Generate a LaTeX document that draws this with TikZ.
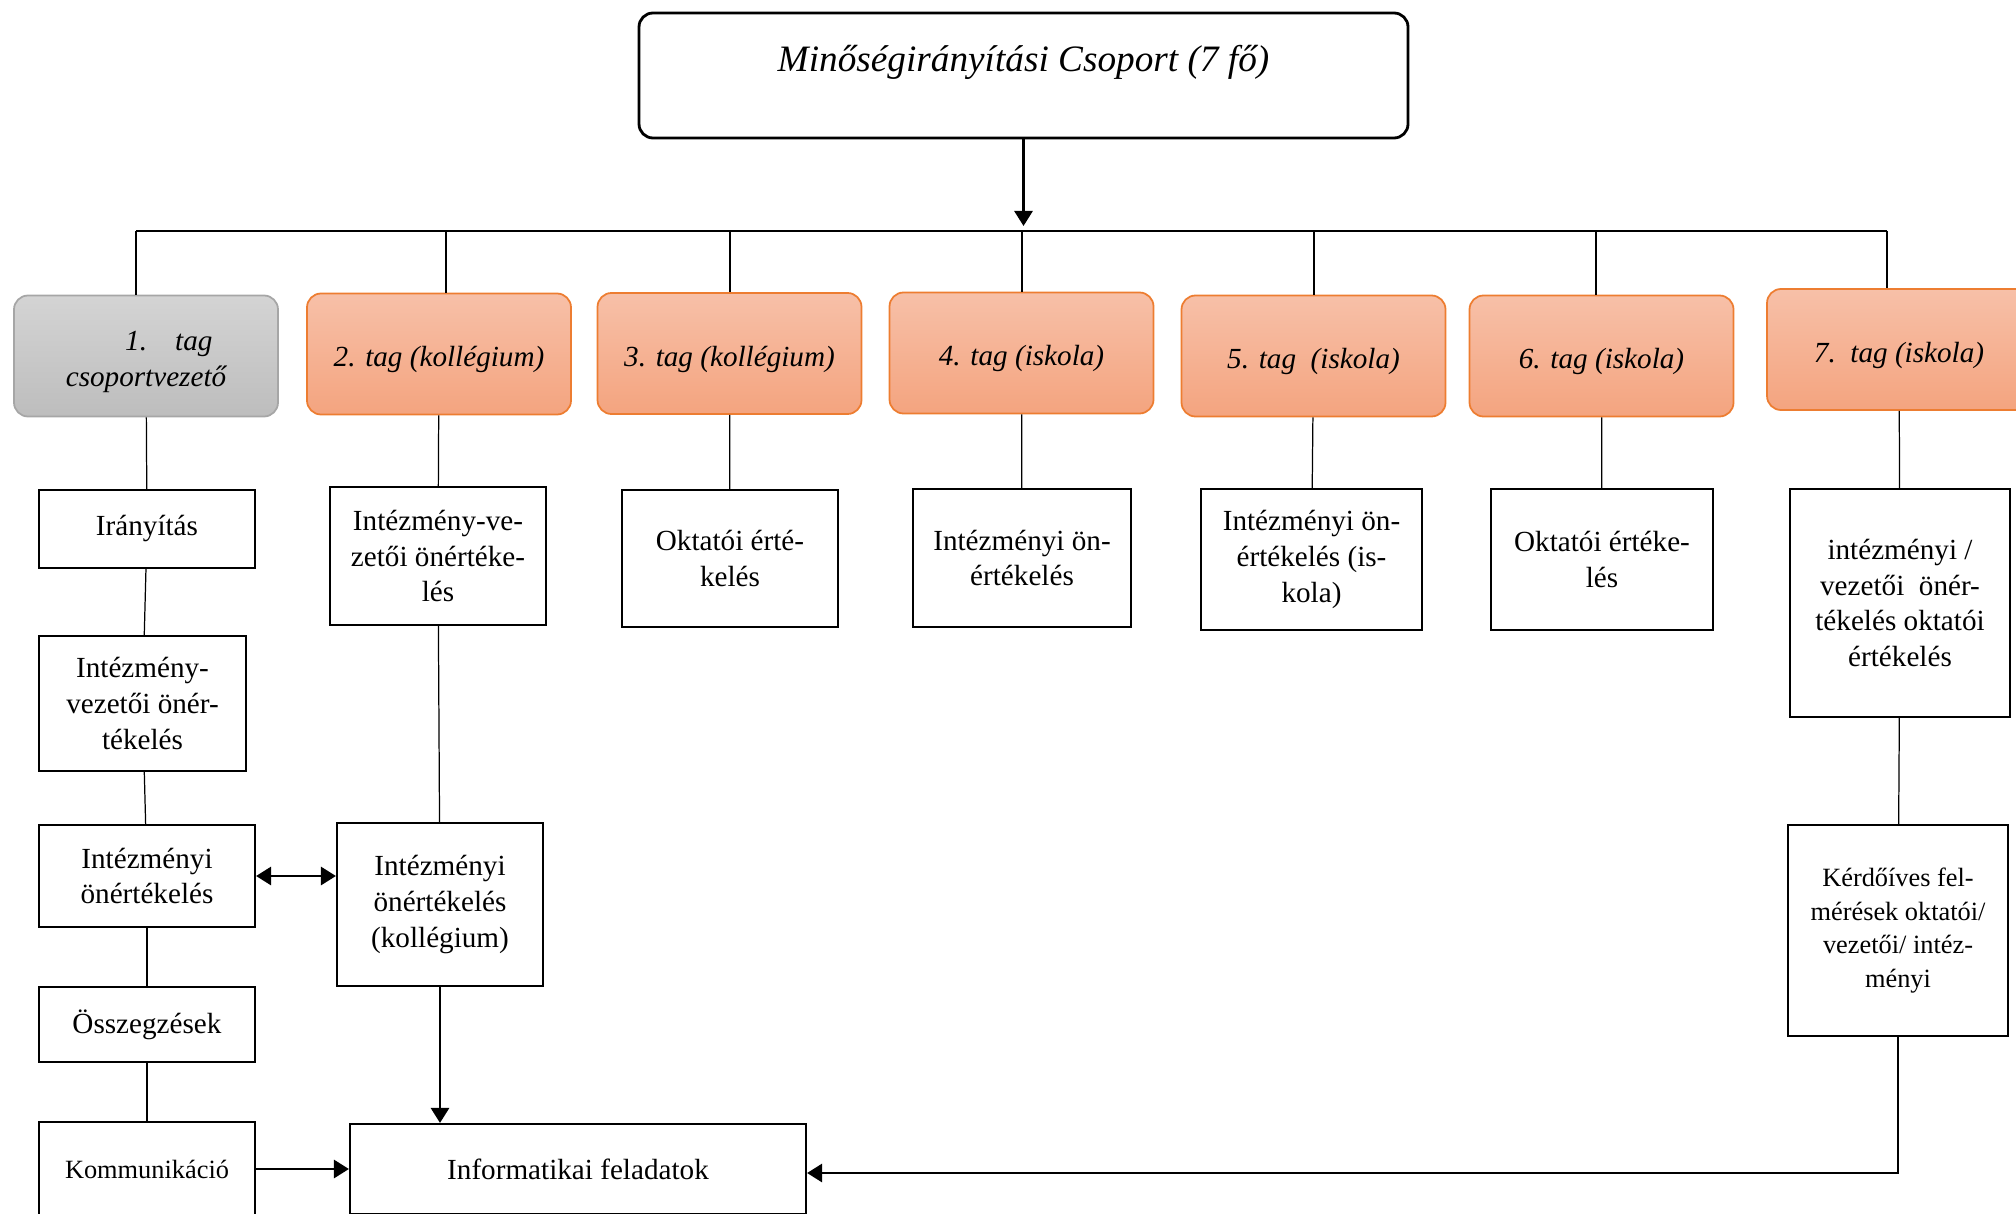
\documentclass[tikz,border=0pt]{standalone}
\usepackage{fontspec}
\setmainfont{Liberation Serif}
\usetikzlibrary{arrows.meta}

\definecolor{tagtop}{HTML}{F7C0A8}
\definecolor{tagbot}{HTML}{F4A47F}
\definecolor{tagline}{HTML}{ED7D31}
\definecolor{leadtop}{HTML}{D4D4D4}
\definecolor{leadbot}{HTML}{BDBDBD}
\definecolor{leadline}{HTML}{A6A6A6}

\tikzset{
    box/.style={draw, line width=0.6pt, align=center, inner sep=1pt,
        font=\fontsize{8.3}{10.2}\selectfont},
    smallbox/.style={box, font=\fontsize{7.5}{9.5}\selectfont},
    tagbox/.style={draw=tagline, line width=0.5pt, rounded corners=0.14cm,
        top color=tagtop, bottom color=tagbot, minimum width=2.64cm,
        minimum height=1.21cm, align=center, text height=9pt,
        font=\fontsize{8.3}{10.2}\selectfont\itshape},
    leadbox/.style={tagbox, draw=leadline, top color=leadtop, bottom color=leadbot,
        text height=19pt},
    link/.style={line width=0.35pt},
    arr/.style={line width=0.8pt, ->},
    >={Triangle[length=0.15cm, width=0.18cm]},
}

\begin{document}
\begin{tikzpicture}
    \useasboundingbox (0,0) rectangle (20.16,-12.13);
    \clip (0,0) rectangle (20.16,-12.13);

    \node[draw, line width=0.8pt, rounded corners=0.14cm, minimum width=7.69cm,
        inner ysep=0pt, text height=0.586cm, text depth=0.664cm,
        font=\fontsize{10.6}{12.7}\selectfont\itshape]
        (title) at (10.235,-0.755) {Minőségirányítási Csoport (7 fő)};

    \coordinate (busL) at (1.36,-2.31);
    \coordinate (busR) at (18.87,-2.31);
    \draw[link] (busL) -- (busR);
    \draw[arr] (title) -- ([yshift=0.05cm]title |- busL);

    \node[leadbox] (t1) at (1.46,-3.56) {\hspace*{13pt}1.\hspace{8pt}tag\\csoportvezető};
    \node[tagbox] (t2) at (4.39,-3.54) {2. tag (kollégium)};
    \node[tagbox] (t3) at (7.295,-3.535) {3. tag (kollégium)};
    \node[tagbox] (t4) at (10.215,-3.53) {4. tag (iskola)};
    \node[tagbox] (t5) at (13.135,-3.56) {5. tag\ \ (iskola)};
    \node[tagbox] (t6) at (16.015,-3.56) {6. tag (iskola)};
    \node[tagbox] (t7) at (18.99,-3.495) {7.\ \ tag (iskola)};

    \foreach \x/\t in {1.36/t1, 4.46/t2, 7.30/t3, 10.22/t4, 13.14/t5, 15.96/t6, 18.87/t7} {
        \coordinate (d) at (\x,-2.31);
        \draw[link] (d) -- (d |- \t.north);
    }

    \node[box, minimum width=2.16cm, minimum height=0.78cm] (iranyitas) at (1.47,-5.29) {Irányítás};
    \node[box, minimum width=2.07cm, minimum height=1.35cm] (vezeto1) at (1.425,-7.035) {Intézmény-\\vezetői önér-\\tékelés};
    \node[box, minimum width=2.16cm, minimum height=1.02cm] (onert1) at (1.47,-8.76) {Intézményi\\önértékelés};
    \node[box, minimum width=2.16cm, minimum height=0.75cm] (osszeg) at (1.47,-10.245) {Összegzések};
    \node[smallbox, minimum width=2.16cm, minimum height=0.94cm] (komm) at (1.47,-11.69) {Kommunikáció};

    \node[box, minimum width=2.16cm, minimum height=1.38cm] (vezeto2) at (4.38,-5.56) {Intézmény-ve-\\zetői önértéke-\\lés};
    \node[box, minimum width=2.06cm, minimum height=1.63cm] (koll) at (4.40,-9.045) {Intézményi\\önértékelés\\(kollégium)};
    \node[box, minimum width=4.56cm, minimum height=0.90cm] (info) at (5.78,-11.69) {Informatikai feladatok};

    \node[box, minimum width=2.16cm, minimum height=1.37cm] (oktato3) at (7.30,-5.585) {Oktatói érté-\\kelés};
    \node[box, minimum width=2.18cm, minimum height=1.38cm] (onert4) at (10.22,-5.58) {Intézményi ön-\\értékelés};
    \node[box, minimum width=2.21cm, minimum height=1.41cm] (onert5) at (13.115,-5.595) {Intézményi ön-\\értékelés (is-\\kola)};
    \node[box, minimum width=2.22cm, minimum height=1.41cm] (oktato6) at (16.02,-5.595) {Oktatói értéke-\\lés};
    \node[box, minimum width=2.20cm, minimum height=2.28cm] (vezeto7) at (19.00,-6.03) {intézményi /\\vezetői\ \ önér-\\tékelés oktatói\\értékelés};
    \node[smallbox, minimum width=2.20cm, minimum height=2.11cm] (kerdoiv) at (18.98,-9.305) {Kérdőíves fel-\\mérések oktatói/\\vezetői/ intéz-\\ményi};

    \foreach \a/\b in {t1/iranyitas, iranyitas/vezeto1, vezeto1/onert1, onert1/osszeg,
        osszeg/komm, t2/vezeto2, vezeto2/koll, t3/oktato3, t4/onert4, t5/onert5,
        t6/oktato6, t7/vezeto7, vezeto7/kerdoiv}
        \draw[link] (\a) -- (\b);

    \draw[arr, <->] (onert1) -- (onert1 -| koll.west);
    \draw[arr] (koll) -- (koll |- info.north);
    \draw[arr] (komm) -- (komm -| info.west);
    \draw[arr] (kerdoiv) |- ([yshift=-0.04cm]info.east);
\end{tikzpicture}
\end{document}
